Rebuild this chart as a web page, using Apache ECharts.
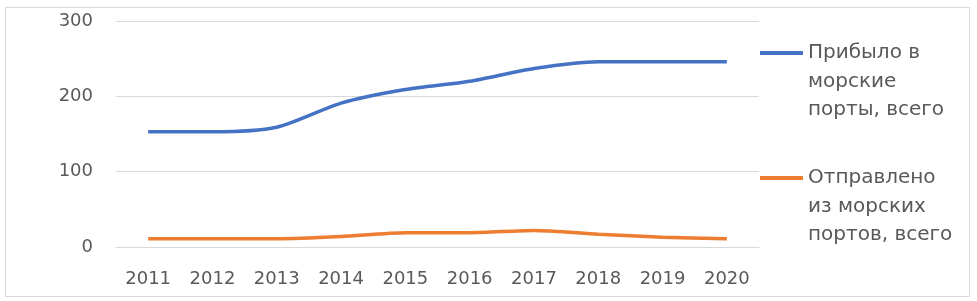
<!DOCTYPE html>
<html>
<head>
<meta charset="utf-8">
<script src="https://cdn.jsdelivr.net/npm/echarts@6/dist/echarts.min.js"></script>
<style>
  html, body { margin: 0; padding: 0; background: #fff; }
  #chart { width: 977px; height: 301px; }
</style>
</head>
<body>
<div id="chart"></div>
<script>
const years = ['2011', '2012', '2013', '2014', '2015', '2016', '2017', '2018', '2019', '2020'];
const arrived = [153, 153, 159, 191, 209, 220, 237, 246, 246, 246];
const shipped = [11, 11, 11, 14, 19, 19, 22, 17, 13, 11];
const seriesNames = ['Прибыло в\nморские\nпорты, всего', 'Отправлено\nиз морских\nпортов, всего'];

const font = 'DejaVu Sans';
const textColor = '#595959';

// legend text is centred on the icon, so two empty lines push the first line level with it
function makeLegend(name, iconY) {
    return {
        data: [name],
        orient: 'vertical',
        left: 760,
        top: iconY - 71.25 + 2,
        padding: 0,
        icon: 'rect',
        itemWidth: 43,
        itemHeight: 4,
        formatter: n => '\n\n' + n,
        textStyle: {
            fontFamily: font,
            fontSize: 20,
            color: textColor,
            lineHeight: 28.5
        }
    };
}

const chart = echarts.init(document.getElementById('chart'));
chart.setOption({
    backgroundColor: '#fff',
    animation: false,
    graphic: [{
        type: 'rect',
        shape: { x: 5.5, y: 7.5, width: 964, height: 289 },
        style: { fill: 'none', stroke: '#d9d9d9', lineWidth: 1 },
        silent: true
    }],
    legend: [
        makeLegend(seriesNames[0], 51),
        makeLegend(seriesNames[1], 176)
    ],
    grid: {
        left: 116,
        right: 218,
        top: 21,
        bottom: 54
    },
    xAxis: {
        type: 'category',
        data: years,
        boundaryGap: true,
        axisLine: { lineStyle: { color: '#d9d9d9', width: 1 } },
        axisTick: { show: false },
        axisLabel: {
            fontFamily: font,
            fontSize: 18,
            color: textColor,
            margin: 23
        }
    },
    yAxis: {
        type: 'value',
        min: 0,
        max: 300,
        interval: 100,
        axisLine: { show: false },
        axisTick: { show: false },
        splitLine: { lineStyle: { color: '#d9d9d9', width: 1 } },
        axisLabel: {
            fontFamily: font,
            fontSize: 18,
            color: textColor,
            margin: 23
        }
    },
    series: [
        {
            name: seriesNames[0],
            type: 'line',
            data: arrived,
            smooth: 0.25,
            symbol: 'none',
            lineStyle: { color: '#4472C4', width: 3.5 },
            itemStyle: { color: '#4472C4' }
        },
        {
            name: seriesNames[1],
            type: 'line',
            data: shipped,
            smooth: 0.25,
            symbol: 'none',
            lineStyle: { color: '#ED7D31', width: 3.5 },
            itemStyle: { color: '#ED7D31' }
        }
    ]
});
</script>
</body>
</html>
